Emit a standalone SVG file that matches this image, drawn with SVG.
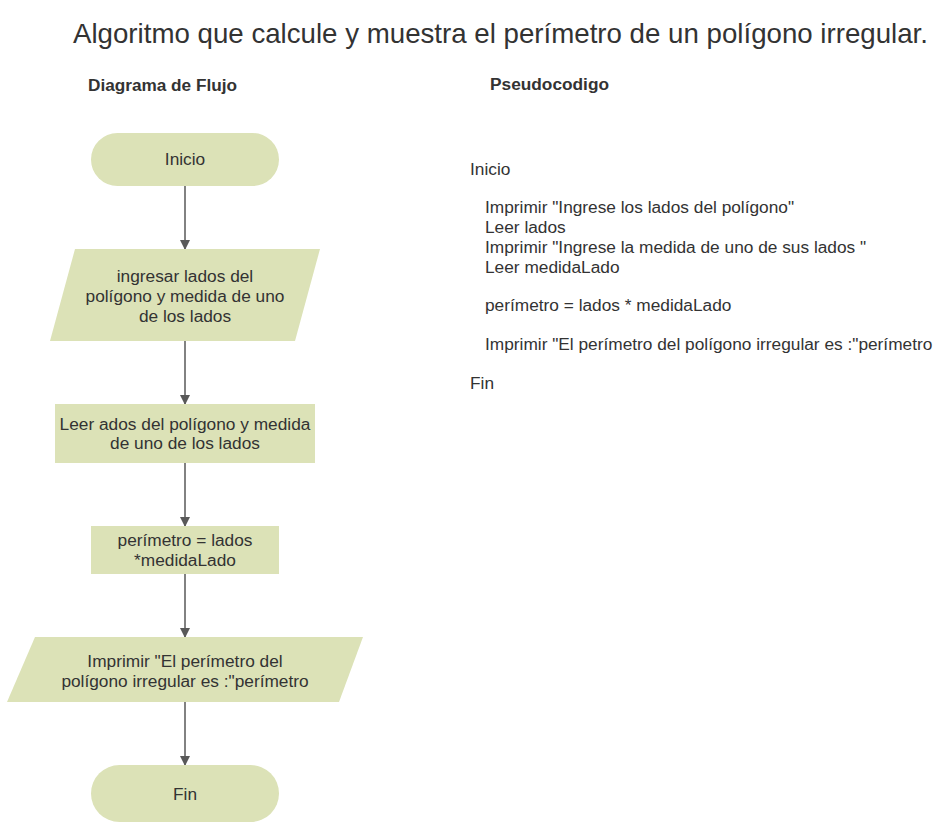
<svg xmlns="http://www.w3.org/2000/svg" width="948" height="830" viewBox="0 0 948 830">
<style>
text{font-family:"Liberation Sans",Arial,sans-serif;fill:#333333}
.n{fill:#dce2b7;stroke:none}
.t{font-size:17.3px;text-anchor:middle}
.p{font-size:17.3px}
.h{font-size:16px;font-weight:bold}
.c{stroke:#595959;stroke-width:1.5;fill:none;marker-end:url(#a)}
</style>
<defs>
<marker id="a" markerWidth="10" markerHeight="10" refX="9" refY="5" orient="auto" markerUnits="userSpaceOnUse">
<path d="M0,0 L10,5 L0,10 Z" fill="#595959"/>
</marker>
</defs>
<rect width="948" height="830" fill="#ffffff"/>
<text x="73" y="43" style="font-size:28px" textLength="855" lengthAdjust="spacingAndGlyphs">Algoritmo que calcule y muestra el perímetro de un polígono irregular.</text>
<text class="h" x="88" y="91" textLength="149" lengthAdjust="spacingAndGlyphs">Diagrama de Flujo</text>
<text class="h" x="490" y="90" textLength="119" lengthAdjust="spacingAndGlyphs">Pseudocodigo</text>

<g id="connectors">
<line class="c" x1="185" y1="186" x2="185" y2="249"/>
<line class="c" x1="185" y1="341" x2="185" y2="404"/>
<line class="c" x1="185" y1="463" x2="185" y2="526"/>
<line class="c" x1="185" y1="574" x2="185" y2="637"/>
<line class="c" x1="185" y1="702" x2="185" y2="765"/>
</g>

<g id="inicio">
<rect class="n" x="91" y="133" width="188" height="53" rx="26.5"/>
<text class="t" x="185" y="165">Inicio</text>
</g>
<g id="entrada">
<polygon class="n" points="75,249 320,249 295,341 50,341"/>
<text class="t" x="185" y="282">ingresar lados del</text>
<text class="t" x="185" y="302">polígono y medida de uno</text>
<text class="t" x="185" y="322">de los lados</text>
</g>
<g id="leer">
<rect class="n" x="55" y="404" width="260" height="59"/>
<text class="t" x="185" y="430">Leer ados del polígono y medida</text>
<text class="t" x="185" y="449">de uno de los lados</text>
</g>
<g id="calculo">
<rect class="n" x="91" y="526" width="188" height="48"/>
<text class="t" x="185" y="546">perímetro = lados</text>
<text class="t" x="185" y="566">*medidaLado</text>
</g>
<g id="imprimir">
<polygon class="n" points="35,637 363,637 339,702 7,702"/>
<text class="t" x="185" y="667">Imprimir "El perímetro del</text>
<text class="t" x="185" y="687">polígono irregular es :"perímetro</text>
</g>
<g id="fin">
<rect class="n" x="91" y="765" width="188" height="57" rx="28.5"/>
<text class="t" x="185" y="800">Fin</text>
</g>

<g id="pseudocodigo">
<text class="p" x="470" y="175">Inicio</text>
<text class="p" x="485" y="213">Imprimir "Ingrese los lados del polígono"</text>
<text class="p" x="485" y="233">Leer lados</text>
<text class="p" x="485" y="253">Imprimir "Ingrese la medida de uno de sus lados "</text>
<text class="p" x="485" y="273">Leer medidaLado</text>
<text class="p" x="485" y="311">perímetro = lados * medidaLado</text>
<text class="p" x="485" y="350">Imprimir "El perímetro del polígono irregular es :"perímetro</text>
<text class="p" x="470" y="389">Fin</text>
</g>
</svg>
